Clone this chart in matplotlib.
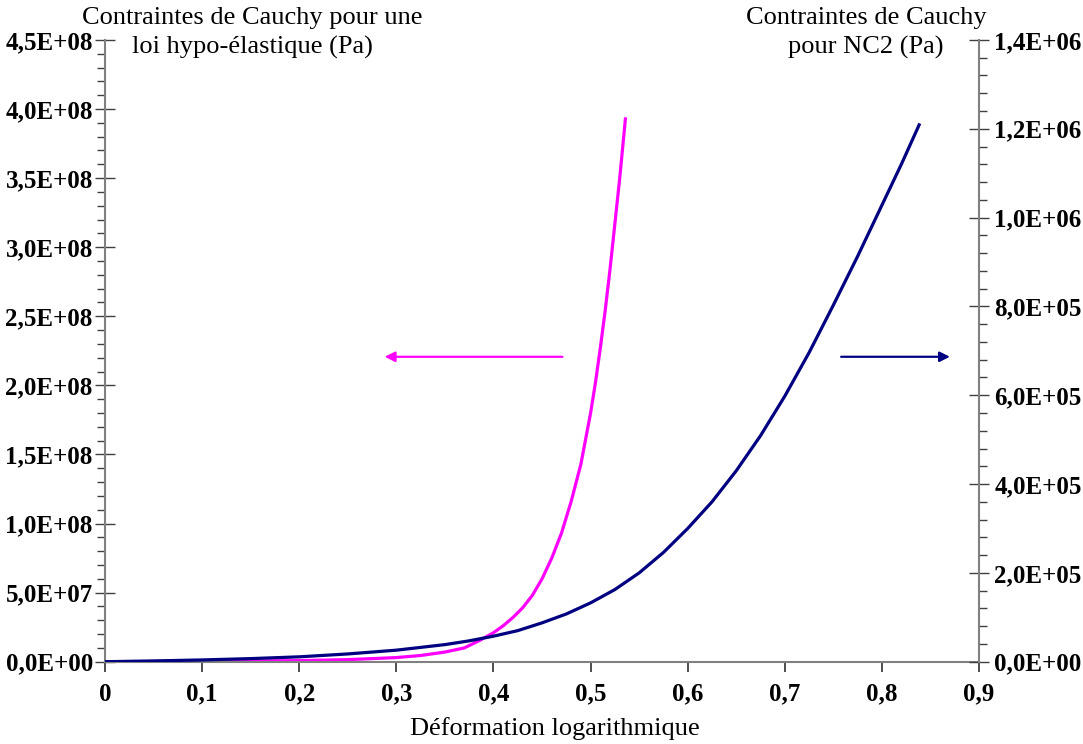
import numpy as np
import matplotlib.pyplot as plt
from matplotlib.ticker import MultipleLocator, FuncFormatter

plt.rcParams['font.family'] = ['Liberation Serif', 'DejaVu Serif']

# strain (log) and Cauchy stress, hypo-elastic law (Pa, left axis)
eps_hypo = [0.0, 0.1, 0.2, 0.25, 0.3, 0.325, 0.35, 0.37, 0.386, 0.40, 0.41,
            0.42, 0.43, 0.44, 0.45, 0.46, 0.47, 0.48, 0.49, 0.50, 0.505,
            0.51, 0.515, 0.52, 0.525, 0.53, 0.536]
sig_hypo = [0.0, 2.0e5, 8.0e5, 1.5e6, 3.0e6, 4.5e6, 7.0e6, 1.0e7, 1.55e7, 2.1e7,
            2.6e7, 3.2e7, 3.9e7, 4.8e7, 6.0e7, 7.5e7, 9.3e7, 1.16e8, 1.43e8,
            1.80e8, 2.02e8, 2.27e8, 2.54e8, 2.84e8, 3.17e8, 3.50e8, 3.94e8]

# strain (log) and Cauchy stress, NC2 model (Pa, right axis)
eps_nc2 = [0.0, 0.05, 0.1, 0.15, 0.2, 0.25, 0.3, 0.35, 0.375, 0.4, 0.425,
           0.45, 0.475, 0.5, 0.525, 0.55, 0.575, 0.6, 0.625, 0.65, 0.675,
           0.7, 0.725, 0.75, 0.775, 0.8, 0.82, 0.839]
sig_nc2 = [0.0, 1.8e3, 4.0e3, 7.0e3, 1.1e4, 1.75e4, 2.6e4, 3.85e4, 4.7e4,
           5.75e4, 7.0e4, 8.75e4, 1.075e5, 1.325e5, 1.625e5, 2.0e5, 2.46e5,
           3.0e5, 3.6e5, 4.3e5, 5.09e5, 5.98e5, 6.96e5, 8.03e5, 9.13e5,
           1.028e6, 1.12e6, 1.212e6]

axis_grey = '#808080'
fs = 18

fig = plt.figure(figsize=(10.83, 7.44), dpi=100)
ax = fig.add_axes([0.097, 0.1106, 0.807, 0.8357])
ax2 = ax.twinx()

ax.plot(eps_hypo, sig_hypo, color='#FF00FF', lw=2.3, solid_capstyle='butt')
ax2.plot(eps_nc2, sig_nc2, color='#000080', lw=2.3, solid_capstyle='butt')

ax.set_xlim(0, 0.9)
ax.set_ylim(0, 4.5e8)
ax2.set_ylim(0, 1.4e6)

sci = FuncFormatter(lambda v, p: f'{v:.1E}'.replace('.', ','))
ax.xaxis.set_major_locator(MultipleLocator(0.1))
ax.xaxis.set_major_formatter(FuncFormatter(
    lambda v, p: '0' if abs(v) < 1e-9 else f'{v:.1f}'.replace('.', ',')))
ax.yaxis.set_major_locator(MultipleLocator(5e7))
ax.yaxis.set_minor_locator(MultipleLocator(1e7))
ax.yaxis.set_major_formatter(sci)
ax2.yaxis.set_major_locator(MultipleLocator(2e5))
ax2.yaxis.set_minor_locator(MultipleLocator(4e4))
ax2.yaxis.set_major_formatter(sci)

for a in (ax, ax2):
    a.spines['top'].set_visible(False)
    for s in a.spines.values():
        s.set_color(axis_grey)
        s.set_linewidth(1.5)
    a.set_facecolor('none')

ax.spines['right'].set_visible(False)
ax2.spines['left'].set_visible(False)
ax2.spines['bottom'].set_visible(False)

ax.tick_params(axis='x', which='major', direction='out', length=7, width=1.3,
               color='#404040', pad=8, labelsize=fs)
ax.tick_params(axis='y', which='major', direction='inout', length=14, width=1.0,
               color='#404040', pad=1.8, labelsize=fs)
ax.tick_params(axis='y', which='minor', direction='out', length=6, width=1.0,
               color='#404040')
ax2.tick_params(axis='y', which='major', direction='inout', length=14, width=1.0,
                color='#404040', pad=4, labelsize=fs)
ax2.tick_params(axis='y', which='minor', direction='out', length=6, width=1.0,
                color='#404040')
for lab in ax.get_xticklabels() + ax.get_yticklabels() + ax2.get_yticklabels():
    lab.set_fontweight('bold')

# arrows pointing to each curve's axis
ax.annotate('', xy=(0.288, 2.207e8), xytext=(0.471, 2.207e8),
            arrowprops=dict(arrowstyle='-|>,head_length=0.6,head_width=0.3',
                            color='#FF00FF', lw=1.6, shrinkA=0, shrinkB=0))
ax.annotate('', xy=(0.870, 2.207e8), xytext=(0.758, 2.207e8),
            arrowprops=dict(arrowstyle='-|>,head_length=0.6,head_width=0.3',
                            color='#000080', lw=1.6, shrinkA=0, shrinkB=0))

# axis titles, two centred lines each
fig.text(252 / 1083, 1 - 18 / 744, 'Contraintes de Cauchy pour une',
         ha='center', va='center', fontsize=19)
fig.text(252 / 1083, 1 - 47 / 744, 'loi hypo-élastique (Pa)',
         ha='center', va='center', fontsize=19)
fig.text(866 / 1083, 1 - 18 / 744, 'Contraintes de Cauchy',
         ha='center', va='center', fontsize=19)
fig.text(866 / 1083, 1 - 47 / 744, 'pour NC2 (Pa)',
         ha='center', va='center', fontsize=19)
fig.text(555 / 1083, 1 - 729 / 744, 'Déformation logarithmique',
         ha='center', va='center', fontsize=19)

fig.savefig('out.png', dpi=100)
